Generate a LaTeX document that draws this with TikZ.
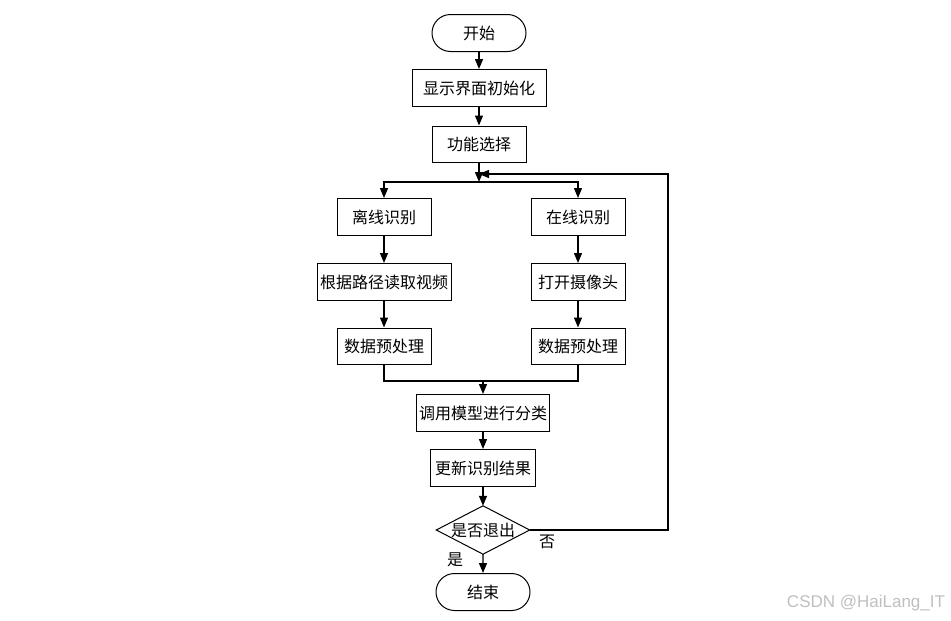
\documentclass[tikz,border=0pt]{standalone}
\usepackage{fontspec}
\newfontfamily\cjk{Noto Sans CJK SC}
\newfontfamily\wmfont{Liberation Sans}
\usetikzlibrary{shapes.misc,arrows.meta}
\begin{document}
\begin{tikzpicture}[x=1pt,y=-1pt,
  every node/.style={font=\cjk\fontsize{16}{19}\selectfont, inner sep=0pt},
  box/.style={draw, line width=1pt, rectangle, minimum height=37pt},
  term/.style={draw, line width=1pt, rounded rectangle, minimum width=94pt, minimum height=37pt},
  ln/.style={line width=1.3pt},
  arr/.style={ln, -{Triangle[length=10pt,width=8pt]}},
  lbl/.style={font=\cjk\fontsize{16}{19}\selectfont}
]
\useasboundingbox (0,0) rectangle (951,621);
\node[term] (start) at (479,33) {开始};
\node[box, minimum width=134pt] (init) at (479,88) {显示界面初始化};
\node[box, minimum width=94pt, minimum height=36pt] (func) at (479,144) {功能选择};
\coordinate (j) at (479,182);
\node[box, minimum width=94pt] (off) at (384,217) {离线识别};
\node[box, minimum width=94pt] (on) at (578,217) {在线识别};
\node[box, minimum width=134pt] (read) at (384,282) {根据路径读取视频};
\node[box, minimum width=94pt] (cam) at (578,282) {打开摄像头};
\node[box, minimum width=94pt, minimum height=36pt] (pre1) at (384,346) {数据预处理};
\node[box, minimum width=94pt, minimum height=36pt] (pre2) at (578,346) {数据预处理};
\coordinate (m) at (483,381);
\node[box, minimum width=133pt] (cls) at (483,413) {调用模型进行分类};
\node[box, minimum width=105pt] (upd) at (483,468) {更新识别结果};
\node[minimum width=93pt, minimum height=48pt] (dec) at (483,530) {是否退出};
\draw[line width=1pt] (dec.north) -- (dec.east) -- (dec.south) -- (dec.west) -- cycle;
\node[term] (end) at (483,592) {结束};
\coordinate (lp) at (668,174);
\coordinate (jin) at (479,174);

\draw[arr] (start) -- (init);
\draw[arr] (init) -- (func);
\draw[arr] (func) -- (j);
\draw[arr] (j) -| (off.north);
\draw[arr] (j) -| (on.north);
\draw[arr] (off) -- (read);
\draw[arr] (read) -- (pre1);
\draw[arr] (on) -- (cam);
\draw[arr] (cam) -- (pre2);
\draw[ln] (pre1.south) |- (m);
\draw[ln] (pre2.south) |- (m);
\draw[arr] (m) -- (cls);
\draw[arr] (cls) -- (upd);
\draw[arr] (upd) -- (dec.north);
\draw[arr] (dec.south) -- (end);
\draw[arr] (dec.east) -| (lp) -- (jin);

\node[lbl] (no) at (547,542) {否};
\node[lbl] (yes) at (455,560) {是};
\node[font=\wmfont\fontsize{17}{20}\selectfont, text=black!25] (wm) at (866,603) {CSDN @HaiLang\_IT};
\end{tikzpicture}
\end{document}
